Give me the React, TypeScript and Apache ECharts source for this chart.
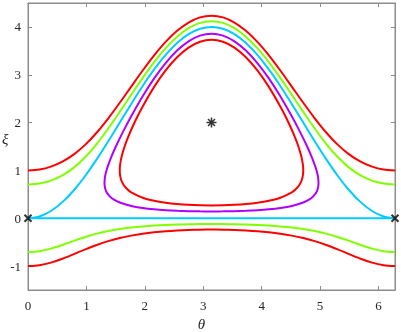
import React, { useEffect, useRef } from "react";
import * as echarts from "echarts";

// axis limits and tick labels
const xMin = 0;
const xMax = 6.28319;
const yMin = -1.5;
const yMax = 4.5;
const xTicks = [0, 1, 2, 3, 4, 5, 6];
const yTicks = [-1, 0, 1, 2, 3, 4];

// shared theta grid for the open curves
const theta = [
  0, 0.19635, 0.3927, 0.58905, 0.7854, 0.98175, 1.1781, 1.37445, 1.5708, 1.76715, 1.9635,
  2.15984, 2.35619, 2.55254, 2.74889, 2.94524, 3.14159, 3.33794, 3.53429, 3.73064, 3.92699,
  4.12334, 4.31969, 4.51604, 4.71239, 4.90874, 5.10509, 5.30144, 5.49779, 5.69414, 5.89049,
  6.08684, 6.28319,
];

const redUpper = [
  1.0, 1.019, 1.079, 1.183, 1.335, 1.539, 1.793, 2.089, 2.414, 2.753, 3.089, 3.405, 3.686,
  3.918, 4.092, 4.2, 4.236, 4.2, 4.092, 3.918, 3.686, 3.405, 3.089, 2.753, 2.414, 2.089,
  1.793, 1.539, 1.335, 1.183, 1.079, 1.019, 1.0,
];
const redLower = [
  -1.0, -0.981, -0.927, -0.846, -0.749, -0.65, -0.558, -0.479, -0.414, -0.363, -0.324,
  -0.294, -0.271, -0.255, -0.244, -0.238, -0.236, -0.238, -0.244, -0.255, -0.271, -0.294,
  -0.324, -0.363, -0.414, -0.479, -0.558, -0.65, -0.749, -0.846, -0.927, -0.981, -1.0,
];
const greenUpper = [
  0.707, 0.727, 0.787, 0.895, 1.058, 1.28, 1.556, 1.876, 2.225, 2.584, 2.936, 3.264, 3.555,
  3.795, 3.974, 4.084, 4.121, 4.084, 3.974, 3.795, 3.555, 3.264, 2.936, 2.584, 2.225, 1.876,
  1.556, 1.28, 1.058, 0.895, 0.787, 0.727, 0.707,
];
const greenLower = [
  -0.707, -0.688, -0.635, -0.558, -0.472, -0.391, -0.321, -0.266, -0.225, -0.194, -0.17,
  -0.153, -0.141, -0.132, -0.126, -0.122, -0.121, -0.122, -0.126, -0.132, -0.141, -0.153,
  -0.17, -0.194, -0.225, -0.266, -0.321, -0.391, -0.472, -0.558, -0.635, -0.688, -0.707,
];
const cyanUpper = [
  0, 0.038, 0.152, 0.337, 0.586, 0.889, 1.235, 1.61, 2.0, 2.39, 2.765, 3.111, 3.414, 3.663,
  3.848, 3.962, 4.0, 3.962, 3.848, 3.663, 3.414, 3.111, 2.765, 2.39, 2.0, 1.61, 1.235, 0.889,
  0.586, 0.337, 0.152, 0.038, 0,
];
const cyanLower = [
  0, 0, 0, 0, 0, 0, 0, 0, 0, 0, 0, 0, 0, 0, 0, 0, 0, 0, 0, 0, 0, 0, 0, 0, 0, 0, 0, 0, 0, 0, 0,
  0, 0,
];

// purple closed orbit
const purpleTheta = [
  3.14159, 2.94524, 2.74889, 2.55254, 2.35619, 2.15984, 1.9635, 1.76715, 1.5708, 1.4581,
  1.4062, 1.37445, 1.3439, 1.3267, 1.3161, 1.3095, 1.3166, 1.333, 1.356, 1.37445, 1.4319,
  1.5041, 1.5708, 1.6657, 1.76715, 1.9635, 2.15984, 2.35619, 2.55254, 2.74889, 2.94524,
  3.14159, 3.33794, 3.53429, 3.73064, 3.92699, 4.12334, 4.31969, 4.51604, 4.6175, 4.71239,
  4.7791, 4.8513, 4.90874, 4.9272, 4.9502, 4.9666, 4.9737, 4.9671, 4.9565, 4.9393, 4.90874,
  4.877, 4.8251, 4.71239, 4.51604, 4.31969, 4.12334, 3.92699, 3.73064, 3.53429, 3.33794,
  3.14159,
];
const purpleXi = [
  0.1426, 0.1441, 0.1487, 0.1569, 0.1695, 0.1882, 0.2157, 0.258, 0.3292, 0.4, 0.45, 0.4921,
  0.55, 0.6, 0.65, 0.7416, 0.85, 0.95, 1.05, 1.1178, 1.3, 1.5, 1.6708, 1.9, 2.1322, 2.5496,
  2.923, 3.2447, 3.5061, 3.6991, 3.8175, 3.8574, 3.8175, 3.6991, 3.5061, 3.2447, 2.923,
  2.5496, 2.1322, 1.9, 1.6708, 1.5, 1.3, 1.1178, 1.05, 0.95, 0.85, 0.7416, 0.65, 0.6, 0.55,
  0.4921, 0.45, 0.4, 0.3292, 0.258, 0.2157, 0.1882, 0.1695, 0.1569, 0.1487, 0.1441, 0.1426,
];

// inner red closed orbit
const innerTheta = [
  3.14159, 2.94524, 2.74889, 2.55254, 2.35619, 2.15984, 1.9635, 1.76715, 1.7045, 1.6351,
  1.5958, 1.5764, 1.5708, 1.5753, 1.5875, 1.6054, 1.628, 1.6542, 1.6835, 1.7154, 1.76715,
  1.863, 1.9635, 2.15984, 2.35619, 2.55254, 2.74889, 2.94524, 3.14159, 3.33794, 3.53429,
  3.73064, 3.92699, 4.12334, 4.31969, 4.4202, 4.51604, 4.5678, 4.5997, 4.629, 4.6552, 4.6778,
  4.6957, 4.7079, 4.7124, 4.7068, 4.6874, 4.6481, 4.5787, 4.51604, 4.31969, 4.12334, 3.92699,
  3.73064, 3.53429, 3.33794, 3.14159,
];
const innerXi = [
  0.2679, 0.271, 0.2803, 0.2971, 0.3235, 0.364, 0.4278, 0.5407, 0.6, 0.7, 0.8, 0.9, 1.0, 1.1,
  1.2, 1.3, 1.4, 1.5, 1.6, 1.7, 1.8495, 2.1, 2.3376, 2.7471, 3.0907, 3.3658, 3.5675, 3.6906,
  3.7321, 3.6906, 3.5675, 3.3658, 3.0907, 2.7471, 2.3376, 2.1, 1.8495, 1.7, 1.6, 1.5, 1.4,
  1.3, 1.2, 1.1, 1.0, 0.9, 0.8, 0.7, 0.6, 0.5407, 0.4278, 0.364, 0.3235, 0.2971, 0.2803,
  0.271, 0.2679,
];

// markers
const crossPoints = [
  [0, 0],
  [6.28319, 0],
];
const starPoints = [[3.14159, 2]];

const RED = "#ff0000";
const GREEN = "#80ff00";
const CYAN = "#00ccff";
const PURPLE = "#b000ff";
const AXIS = "#8c8c8c";
const TEXT = "#262626";
const SERIF = "Liberation Serif, serif";

export default function App() {
  const ref = useRef<HTMLDivElement>(null);

  useEffect(() => {
    if (!ref.current) return;
    const chart = echarts.init(ref.current, null, { renderer: "svg" });
    const pair = (xs: number[], ys: number[]) => xs.map((x, i) => [x, ys[i]]);
    const line = (data: number[][], color: string) => ({
      type: "line",
      data,
      symbol: "none",
      showSymbol: false,
      smooth: 0.3,
      silent: true,
      lineStyle: { color, width: 2 },
      z: 2,
    });
    const axisLine = () => ({ show: true, onZero: false, lineStyle: { color: AXIS, width: 1 } });
    const tick = (vals: number[]) => ({
      show: true,
      inside: true,
      length: 4,
      customValues: vals,
      lineStyle: { color: AXIS },
    });

    chart.setOption({
      animation: false,
      grid: {
        left: 28,
        right: 6,
        top: 3,
        bottom: 42,
        containLabel: false,
        outerBoundsMode: "none",
        show: true,
        borderColor: AXIS,
        borderWidth: 1,
        backgroundColor: "transparent",
      },
      graphic: [
        {
          type: "text",
          left: 2,
          top: 131,
          silent: true,
          style: {
            text: "ξ",
            fill: TEXT,
            fontFamily: SERIF,
            fontStyle: "italic",
            fontSize: 15,
          },
        },
      ],
      xAxis: [
        {
          type: "value",
          min: xMin,
          max: xMax,
          position: "bottom",
          axisLine: axisLine(),
          axisTick: tick(xTicks),
          axisLabel: { customValues: xTicks, margin: 9, color: TEXT, fontFamily: SERIF, fontSize: 13 },
          splitLine: { show: false },
          name: "θ",
          nameLocation: "middle",
          nameGap: 26,
          nameTextStyle: { fontFamily: SERIF, fontStyle: "italic", fontSize: 15, color: TEXT, padding: [0, 20, 0, 0] },
        },
        {
          type: "value",
          min: xMin,
          max: xMax,
          position: "top",
          axisLine: axisLine(),
          axisTick: tick(xTicks),
          axisLabel: { show: false },
          splitLine: { show: false },
        },
      ],
      yAxis: [
        {
          type: "value",
          min: yMin,
          max: yMax,
          position: "left",
          axisLine: axisLine(),
          axisTick: tick(yTicks),
          axisLabel: { customValues: yTicks, margin: 7, color: TEXT, fontFamily: SERIF, fontSize: 13 },
          splitLine: { show: false },
        },
        {
          type: "value",
          min: yMin,
          max: yMax,
          position: "right",
          axisLine: axisLine(),
          axisTick: tick(yTicks),
          axisLabel: { show: false },
          splitLine: { show: false },
        },
      ],
      series: [
        line(pair(theta, redUpper), RED),
        line(pair(theta, greenUpper), GREEN),
        line(pair(theta, cyanUpper), CYAN),
        line(pair(purpleTheta, purpleXi), PURPLE),
        line(pair(innerTheta, innerXi), RED),
        line(pair(theta, cyanLower), CYAN),
        line(pair(theta, greenLower), GREEN),
        line(pair(theta, redLower), RED),
        {
          type: "scatter",
          data: crossPoints,
          symbol: "path://M0,0L10,10M10,0L0,10",
          symbolSize: 7,
          clip: false,
          silent: true,
          itemStyle: { color: "none", borderColor: "#000", borderWidth: 2 },
          z: 5,
        },
        {
          type: "scatter",
          data: starPoints,
          symbol: "path://M5,0L5,10M0,5L10,5M1.5,1.5L8.5,8.5M8.5,1.5L1.5,8.5",
          symbolSize: 10,
          clip: false,
          silent: true,
          itemStyle: { color: "none", borderColor: "#000", borderWidth: 1.5 },
          z: 5,
        },
      ],
    });

    return () => chart.dispose();
  }, []);

  return (
    <div
      ref={ref}
      style={{ position: "fixed", left: 0, top: 0, width: 401, height: 332 }}
    />
  );
}
